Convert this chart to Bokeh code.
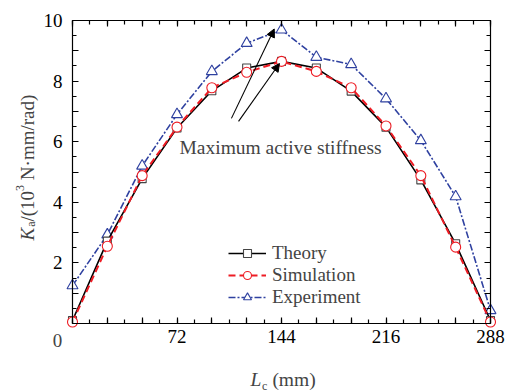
import math
from bokeh.plotting import figure
from bokeh.models import (Range1d, LinearAxis, FixedTicker, CustomJSTickFormatter,
                          Legend, LegendItem, Label, Arrow, NormalHead)
from bokeh.embed import file_html
from bokeh.resources import INLINE

# ---- data ----
lc = [0, 24, 48, 72, 96, 120, 144, 168, 192, 216, 240, 264, 288]
theory = [0.1, 2.72, 4.78, 6.45, 7.68, 8.43, 8.65, 8.43, 7.67, 6.48, 4.74, 2.63, 0.1]
simulation = [0.05, 2.55, 4.88, 6.48, 7.78, 8.29, 8.65, 8.32, 7.78, 6.52, 4.88, 2.52, 0.05]
experiment = [1.25, 2.93, 5.2, 6.9, 8.32, 9.25, 9.69, 8.79, 8.55, 7.42, 6.04, 4.19, 0.43]
series_names = ["Theory", "Simulation", "Experiment"]
x_major = list(range(0, 289, 24))
x_minor = list(range(0, 289, 12))
y_major = list(range(0, 11))
y_minor = [i * 0.5 for i in range(0, 21)]
annotation_text = "Maximum active stiffness"
arrow_starts = [(109.5, 6.77), (114.4, 6.67)]
arrow_ends = [(139.0, 9.72), (142.6, 8.58)]

FONT = "Liberation Serif"
NB = "\u00a0"
W, H = 507, 391
# plot area placement inside the canvas (pixels)
L, T, FW, FH = 72, 20, 418, 303
XMIN, XMAX, YMIN, YMAX = 0, 288, 0, 10

def px2x(px):
    return XMIN + (px - L) / FW * (XMAX - XMIN)

def py2y(py):
    return YMIN + (T + FH - py) / FH * (YMAX - YMIN)

p = figure(width=W, height=H, frame_width=W, frame_height=H,
           min_border_left=0, min_border_right=0, min_border_top=0, min_border_bottom=0,
           x_range=Range1d(px2x(0), px2x(W)), y_range=Range1d(py2y(H), py2y(0)),
           output_backend="svg", toolbar_location=None, x_axis_location=None,
           y_axis_location=None)
p.xgrid.visible = False
p.ygrid.visible = False
p.outline_line_color = None
p.background_fill_color = "white"
p.border_fill_color = "white"

def style_axis(ax, fixed, bounds, ticks, minors, fmt_code, standoff):
    ax.fixed_location = fixed
    ax.bounds = bounds
    ax.ticker = FixedTicker(ticks=ticks, minor_ticks=minors)
    ax.axis_line_color = "black"
    ax.axis_line_width = 1.2
    ax.major_tick_line_color = "black"
    ax.minor_tick_line_color = "black"
    ax.major_tick_in = 6
    ax.major_tick_out = 0
    ax.minor_tick_in = 4
    ax.minor_tick_out = 0
    ax.major_tick_line_width = 1.2
    ax.minor_tick_line_width = 1.2
    ax.major_label_text_font = FONT
    ax.major_label_text_font_size = "19px"
    ax.major_label_text_color = "black"
    ax.major_label_standoff = standoff
    ax.formatter = CustomJSTickFormatter(code=fmt_code)

xb = LinearAxis()
style_axis(xb, YMIN, (XMIN, XMAX), x_major, x_minor,
           "return (tick % 72 == 0 && tick > 0) ? tick.toString() : '';", 6)
p.add_layout(xb, "below")
xa = LinearAxis()
style_axis(xa, YMAX, (XMIN, XMAX), x_major, x_minor, "return '';", 0)
p.add_layout(xa, "above")
yl = LinearAxis()
style_axis(yl, XMIN, (YMIN, YMAX), y_major, y_minor,
           "return (tick % 2 == 0 && tick > 0) ? tick.toString() : '';", 10)
p.add_layout(yl, "left")
yr = LinearAxis()
style_axis(yr, XMAX, (YMIN, YMAX), y_major, y_minor, "return '';", 0)
p.add_layout(yr, "right")

BLUE = "#2f41a0"
RED = "#ee1c24"

le = p.line(lc, experiment, line_color=BLUE, line_width=1.6, line_dash="7 2 2 2")
me = p.scatter(lc, experiment, marker="triangle", size=11, line_color=BLUE,
               fill_color="white", line_width=1.1)
lt = p.line(lc, theory, line_color="black", line_width=1.6)
mt = p.scatter(lc, theory, marker="square", size=8, line_color="#444444",
               fill_color="white", line_width=1.1)
ls = p.line(lc, simulation, line_color=RED, line_width=2, line_dash="7 4")
ms = p.scatter(lc, simulation, marker="circle", size=10, line_color=RED,
               fill_color="white", line_width=1.1)

legend = Legend(items=[LegendItem(label=series_names[0], renderers=[lt, mt]),
                       LegendItem(label=series_names[1], renderers=[ls, ms]),
                       LegendItem(label=series_names[2], renderers=[le, me])],
                location=(228, 83), glyph_width=38, glyph_height=20, label_height=22,
                label_standoff=6, spacing=0, padding=0, margin=0,
                label_text_font=FONT, label_text_font_size="19px",
                border_line_color=None, background_fill_alpha=0)
p.add_layout(legend, "center")

# annotation and arrows
for (xs, ys), (xe, ye) in zip(arrow_starts, arrow_ends):
    p.add_layout(Arrow(x_start=xs, y_start=ys, x_end=xe, y_end=ye, line_width=1.1,
                       line_color="black",
                       end=NormalHead(size=8, fill_color="black", line_color="black")))
p.add_layout(Label(x=px2x(179), y=py2y(147), text=annotation_text, text_font=FONT,
                   text_font_size="19.5px", text_baseline="alphabetic", text_align="left"))

# origin "0"
p.add_layout(Label(x=px2x(57), y=py2y(340), text="0", text_font=FONT, text_font_size="19px",
                   text_align="center", text_baseline="middle"))

# y-axis label pieces (rotated)
A = math.pi / 2
ypieces = [("K", 26.5, 240, "19px", "italic"),
           ("a", 30.5, 226.3, "12px", "normal"),
           ("/(10", 26.5, 221, "19px", "normal"),
           ("3", 19, 190.4, "12px", "normal"),
           (NB + "N\u00b7mm/rad)", 26.5, 184.4, "19px", "normal")]
for t, xp, yp, fs, st in ypieces:
    p.add_layout(Label(x=px2x(xp), y=py2y(yp), text=t, angle=A, text_font=FONT,
                       text_font_size=fs, text_font_style=st, text_align="left",
                       text_baseline="alphabetic"))

# x-axis label pieces
xpieces = [("L", 250, 379, "19.5px", "italic"),
           ("c", 261.5, 385, "12px", "normal"),
           (NB + "(mm)", 267, 379, "19.5px", "normal")]
for t, xp, yp, fs, st in xpieces:
    p.add_layout(Label(x=px2x(xp), y=py2y(yp), text=t, text_font=FONT,
                       text_font_size=fs, text_font_style=st, text_align="left",
                       text_baseline="alphabetic"))

open("out.html", "w").write(file_html(p, INLINE))
